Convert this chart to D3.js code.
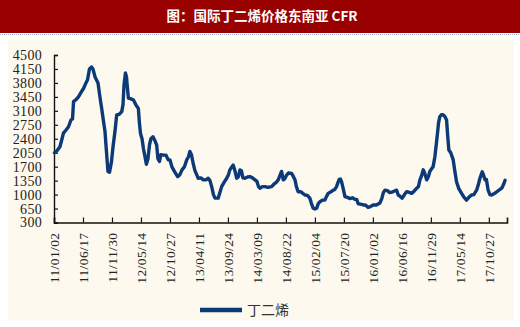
<!DOCTYPE html>
<html>
<head>
<meta charset="utf-8">
<script src="https://cdn.jsdelivr.net/npm/d3@7"></script>
<style>
  html, body { margin: 0; padding: 0; background: #ffffff; }
  svg { display: block; }
  .serif-label { font-family: "Liberation Serif", "Times New Roman", "DejaVu Serif", serif; }
</style>
</head>
<body>
<svg id="chart" width="520" height="327"></svg>
<script>
// Butadiene CFR Southeast Asia price, USD/t
const dates = [
  "2011-01-05","2011-01-19","2011-02-05","2011-02-17","2011-02-25","2011-03-12","2011-03-26","2011-04-09",
  "2011-04-18","2011-04-24","2011-05-08","2011-05-22","2011-06-06","2011-06-20","2011-07-04","2011-07-13",
  "2011-07-24","2011-08-05","2011-08-13","2011-08-25","2011-09-11","2011-09-22","2011-10-02","2011-10-12",
  "2011-10-21","2011-10-29","2011-11-07","2011-11-16","2011-11-27","2011-12-06","2011-12-17","2011-12-27",
  "2012-01-09","2012-01-25","2012-02-01","2012-02-07","2012-02-15","2012-02-21","2012-02-27","2012-03-03",
  "2012-03-18","2012-04-01","2012-04-15","2012-04-29","2012-05-05","2012-05-11","2012-05-20","2012-05-28",
  "2012-06-06","2012-06-14","2012-06-23","2012-07-02","2012-07-10","2012-07-22","2012-08-02","2012-08-12",
  "2012-08-19","2012-08-28","2012-09-05","2012-09-19","2012-10-04","2012-10-17","2012-10-27","2012-11-07",
  "2012-11-19","2012-12-10","2012-12-23","2013-01-04","2013-01-18","2013-01-31","2013-02-10","2013-02-18",
  "2013-02-27","2013-03-09","2013-03-19","2013-04-07","2013-04-22","2013-05-06","2013-05-21","2013-06-03",
  "2013-06-13","2013-06-23","2013-07-03","2013-07-12","2013-07-30","2013-08-09","2013-08-19","2013-09-01",
  "2013-09-17","2013-09-27","2013-10-05","2013-10-17","2013-10-24","2013-11-03","2013-11-13","2013-11-23",
  "2013-12-02","2013-12-10","2013-12-19","2013-12-30","2014-01-14","2014-01-28","2014-02-11","2014-02-26",
  "2014-03-09","2014-03-18","2014-03-26","2014-04-09","2014-04-24","2014-05-11","2014-06-01","2014-06-14",
  "2014-06-26","2014-07-09","2014-07-19","2014-07-28","2014-08-07","2014-08-16","2014-08-26","2014-09-05",
  "2014-09-24","2014-10-04","2014-10-13","2014-10-21","2014-10-31","2014-11-16","2014-11-27","2014-12-09",
  "2014-12-23","2015-01-06","2015-01-15","2015-01-25","2015-02-04","2015-02-14","2015-02-24","2015-03-05",
  "2015-03-19","2015-04-02","2015-04-11","2015-04-21","2015-05-07","2015-05-20","2015-05-29","2015-06-08",
  "2015-06-16","2015-06-23","2015-06-30","2015-07-07","2015-07-16","2015-07-26","2015-08-09","2015-08-23",
  "2015-09-07","2015-09-21","2015-10-01","2015-10-10","2015-10-23","2015-11-08","2015-11-20","2015-12-06",
  "2015-12-19","2016-01-04","2016-01-22","2016-02-11","2016-02-22","2016-03-02","2016-03-11","2016-03-25",
  "2016-04-08","2016-04-20","2016-05-04","2016-05-17","2016-05-26","2016-06-05","2016-06-18","2016-07-01",
  "2016-07-13","2016-07-27","2016-08-11","2016-08-24","2016-09-09","2016-09-19","2016-09-27","2016-10-06",
  "2016-10-16","2016-10-23","2016-11-05","2016-11-15","2016-11-23","2016-12-02","2016-12-12","2016-12-22",
  "2016-12-31","2017-01-06","2017-01-12","2017-01-19","2017-01-28","2017-02-07","2017-02-17","2017-02-27",
  "2017-03-05","2017-03-12","2017-03-23","2017-04-06","2017-04-15","2017-04-25","2017-05-08","2017-05-24",
  "2017-06-06","2017-06-21","2017-07-04","2017-07-20","2017-08-02","2017-08-18","2017-08-28","2017-09-06",
  "2017-09-19","2017-09-26","2017-10-05","2017-10-13","2017-10-23","2017-11-02","2017-11-12","2017-11-25",
  "2017-12-11","2017-12-24","2018-01-09","2018-01-19","2018-01-28"
];
const prices = [
  2050,2100,2200,2400,2540,2620,2700,2870,
  2900,3330,3380,3450,3560,3660,3800,3880,
  4150,4200,4150,3950,3800,3450,3160,2850,
  2580,2100,1580,1560,1820,2200,2580,3000,
  3010,3080,3250,3750,4050,3950,3650,3420,
  3400,3370,3250,3160,2800,2540,2400,2160,
  1950,1760,1900,2250,2400,2450,2350,2240,
  1900,1830,2000,1990,1990,1870,1870,1700,
  1600,1450,1500,1620,1700,1870,1950,2080,
  2000,1780,1600,1410,1420,1370,1370,1410,
  1350,1200,1000,910,910,1050,1200,1300,
  1410,1500,1620,1700,1740,1600,1410,1450,
  1620,1600,1420,1410,1440,1450,1420,1370,
  1330,1200,1160,1200,1200,1180,1200,1260,
  1300,1370,1480,1580,1370,1400,1490,1540,
  1530,1450,1370,1200,1070,1070,1030,990,
  980,910,780,660,640,660,780,820,
  860,860,950,1030,1070,1110,1130,1200,
  1300,1380,1390,1320,1150,950,930,900,
  920,880,880,770,760,740,740,680,
  700,740,740,790,900,1050,1110,1100,
  1050,1060,1090,1110,990,960,910,1000,
  1070,1060,1030,1080,1160,1200,1360,1460,
  1620,1560,1370,1450,1580,1640,1700,1950,
  2300,2540,2800,2950,3000,3000,2960,2870,
  2500,2120,2050,1870,1600,1320,1150,1030,
  940,860,930,990,1000,1110,1250,1410,
  1570,1500,1370,1380,1110,1000,990,1020,
  1070,1110,1160,1250,1360
];
const xTickLabels = [
  "11/01/02","11/06/17","11/11/30","12/05/14","12/10/27","13/04/11","13/09/24","14/03/09",
  "14/08/22","15/02/04","15/07/20","16/01/02","16/06/16","16/11/29","17/05/14","17/10/27"
];
const yTicks = [300,650,1000,1350,1700,2050,2400,2750,3100,3450,3800,4150,4500];
const xDomain = ["2011-01-02","2018-02-08"];
const seriesName = "丁二烯";
const titleText = "图：国际丁二烯价格东南亚 CFR";

const parseDay = d3.timeParse("%Y-%m-%d");
const parseTick = d3.timeParse("%y/%m/%d");
const series = dates.map((d, i) => ({ date: parseDay(d), value: prices[i] }));

const svg = d3.select("#chart");
const lineColor = "#0c3a78";

// header band
svg.append("rect").attr("x", 0).attr("y", 0).attr("width", 520).attr("height", 33).attr("fill", "#990000");
svg.append("line").attr("x1", 0).attr("x2", 520).attr("y1", 34.5).attr("y2", 34.5)
  .attr("stroke", "#9fb0d0").attr("stroke-width", 1).attr("stroke-dasharray", "1,1");
svg.append("text").attr("x", 262).attr("y", 21)
  .attr("text-anchor", "middle")
  .attr("fill", "#ffffff")
  .style("font-family", "'Noto Sans CJK SC', sans-serif")
  .attr("font-weight", "bold")
  .attr("font-size", 13.5)
  .text(titleText);

// panel
svg.append("rect").attr("x", 8).attr("y", 40).attr("width", 506).attr("height", 280).attr("fill", "#fdf9ee");

const x = d3.scaleTime().domain(xDomain.map(parseDay)).range([54, 507]);
const y = d3.scaleLinear().domain([300, 4500]).range([222.5, 55]);

// y axis
const yAxis = svg.append("g").attr("transform", "translate(54,0)")
  .call(d3.axisLeft(y).tickValues(yTicks).tickSize(-4).tickFormat(d3.format("d")));
yAxis.attr("font-family", null);
yAxis.select(".domain").attr("stroke", "#111").attr("stroke-width", 1.4);
yAxis.selectAll(".tick line").attr("stroke", "#111").attr("stroke-width", 1.2);
yAxis.selectAll(".tick text")
  .attr("class", "serif-label")
  .attr("x", -12)
  .attr("font-size", 14)
  .attr("letter-spacing", 0.3)
  .attr("fill", "#222");

// x axis
const xAxis = svg.append("g").attr("transform", "translate(0,222.5)")
  .call(d3.axisBottom(x).tickValues(xTickLabels.map(parseTick)).tickSize(-5)
    .tickFormat(d3.timeFormat("%y/%m/%d")));
xAxis.attr("font-family", null);
xAxis.select(".domain").attr("stroke", "#111").attr("stroke-width", 1.6);
xAxis.selectAll(".tick line").attr("stroke", "#111").attr("stroke-width", 1.2);
xAxis.selectAll(".tick text")
  .attr("class", "serif-label")
  .attr("transform", "rotate(-90)")
  .attr("x", -10)
  .attr("y", 0)
  .attr("dy", "0.35em")
  .attr("text-anchor", "end")
  .attr("font-size", 13.5)
  .attr("letter-spacing", 0.4)
  .attr("fill", "#222");

// series line
const line = d3.line().x(d => x(d.date)).y(d => y(d.value)).curve(d3.curveLinear);
svg.append("path").datum(series)
  .attr("d", line)
  .attr("fill", "none")
  .attr("stroke", lineColor)
  .attr("stroke-width", 3.4)
  .attr("stroke-linejoin", "round")
  .attr("stroke-linecap", "round");

// legend
const legend = svg.append("g").attr("transform", "translate(200,310)");
legend.append("line").attr("x1", 0).attr("x2", 42).attr("y1", 0).attr("y2", 0)
  .attr("stroke", lineColor).attr("stroke-width", 4.5);
legend.append("text").attr("x", 47).attr("y", 5)
  .style("font-family", "'Noto Sans CJK SC', sans-serif")
  .attr("font-size", 14)
  .attr("fill", "#333")
  .text(seriesName);
</script>
</body>
</html>
